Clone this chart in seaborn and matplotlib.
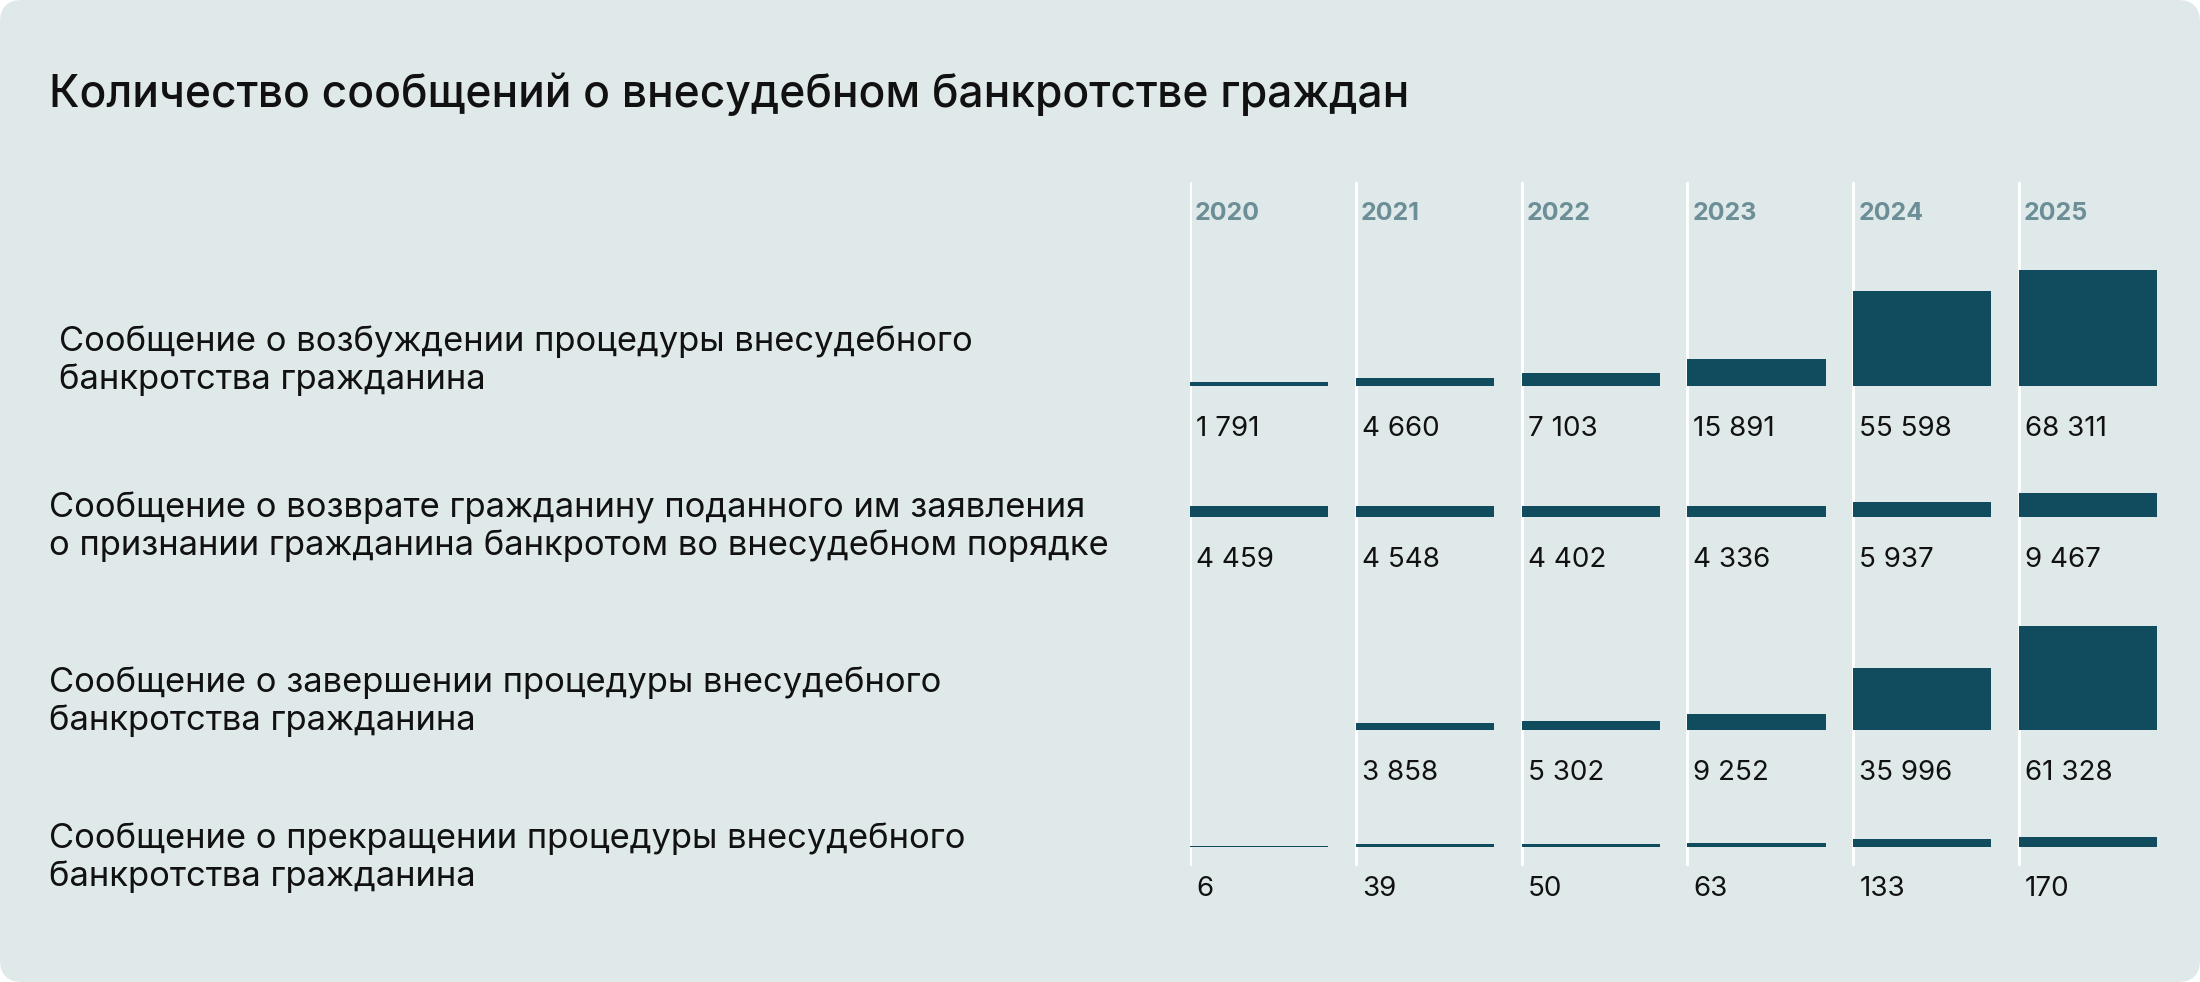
import numpy as np
import pandas as pd
import matplotlib
matplotlib.use("Agg")
import matplotlib.pyplot as plt
from matplotlib.patches import FancyBboxPatch
import seaborn as sns

# ---------------- data ----------------
years = ["2020", "2021", "2022", "2023", "2024", "2025"]
row_labels = [
    "Сообщение о возбуждении процедуры внесудебного\nбанкротства гражданина",
    "Сообщение о возврате гражданину поданного им заявления\nо признании гражданина банкротом во внесудебном порядке",
    "Сообщение о завершении процедуры внесудебного\nбанкротства гражданина",
    "Сообщение о прекращении процедуры внесудебного\nбанкротства гражданина",
]
initiated = [1791, 4660, 7103, 15891, 55598, 68311]
returned = [4459, 4548, 4402, 4336, 5937, 9467]
completed = [np.nan, 3858, 5302, 9252, 35996, 61328]
terminated = [6, 39, 50, 63, 133, 170]
series = [initiated, returned, completed, terminated]
title = "Количество сообщений о внесудебном банкротстве граждан"

# ---------------- style ----------------
W, H, DPI = 2200, 982, 100
BG = "#e0e9e9"
BAR = "#104c5e"
YEAR_C = "#6b8e97"
FONT = ["Inter", "DejaVu Sans"]

sns.set_theme(style="white")
plt.rcParams["font.family"] = FONT

fig = plt.figure(figsize=(W / DPI, H / DPI), dpi=DPI)
fig.patch.set_facecolor("white")
card = FancyBboxPatch((0, 0), W / DPI, H / DPI,
                      boxstyle="round,pad=0,rounding_size=0.22",
                      transform=fig.dpi_scale_trans, facecolor=BG,
                      edgecolor="none", zorder=-5)
fig.patches.append(card)

def fx(px):
    return px / W

def fy(py):
    return 1 - py / H

# column geometry
col_left = 1190
col_w = 165.8
bar_frac = 0.833
xlim = (-bar_frac / 2, len(years) - bar_frac / 2)
grid_left = col_left
grid_right = col_left + col_w * len(years)

# background axes for white separators & year labels
bg_top, bg_bot = 182, 866
axbg = fig.add_axes([fx(grid_left), fy(bg_bot), fx(grid_right - grid_left),
                     (bg_bot - bg_top) / H])
axbg.set_xlim(*xlim)
axbg.set_ylim(0, 1)
axbg.axis("off")
axbg.patch.set_alpha(0)
for i, yr in enumerate(years):
    axbg.axvline(i - bar_frac / 2, color="white", lw=2, zorder=1)
    axbg.annotate(yr, xy=(i - bar_frac / 2, 1), xycoords="data",
                  xytext=(5, -32), textcoords="offset pixels",
                  ha="left", va="center", fontsize=18, fontweight="bold",
                  color=YEAR_C)

# row axes
baselines = [385.5, 517, 729.5, 846.5]
px_per_unit = [116 / 68311, 23.7 / 9467, 104 / 61328, 9.1 / 170]
ax_h = 140
label_y = [361, 527, 702, 857.5]
label_x = [59, 49, 49, 49]

for r, vals in enumerate(series):
    ax = fig.add_axes([fx(grid_left), fy(baselines[r]), fx(grid_right - grid_left),
                       ax_h / H])
    df = pd.DataFrame({"year": years, "value": vals})
    sns.barplot(data=df, x="year", y="value", order=years, ax=ax,
                color=BAR, saturation=1, width=bar_frac, linewidth=0,
                errorbar=None, zorder=3)
    ax.set_xlim(*xlim)
    ax.set_ylim(0, ax_h / px_per_unit[r])
    ax.axis("off")
    ax.patch.set_alpha(0)
    for i, v in enumerate(vals):
        if pd.isna(v):
            continue
        ax.annotate(f"{int(v):,}".replace(",", " "), xy=(i - bar_frac / 2, 0),
                    xycoords="data", xytext=(6, -43), textcoords="offset pixels",
                    ha="left", va="center", fontsize=20, color="#111111")
    fig.text(fx(label_x[r]), fy(label_y[r]), row_labels[r], ha="left", va="center",
             fontsize=24.9, color="#111111", linespacing=1.2)

fig.text(fx(49), fy(107), title, ha="left", va="baseline", fontsize=31.9,
         fontweight="medium", color="#111111")

fig.savefig("out.png", dpi=DPI, facecolor=fig.get_facecolor())
